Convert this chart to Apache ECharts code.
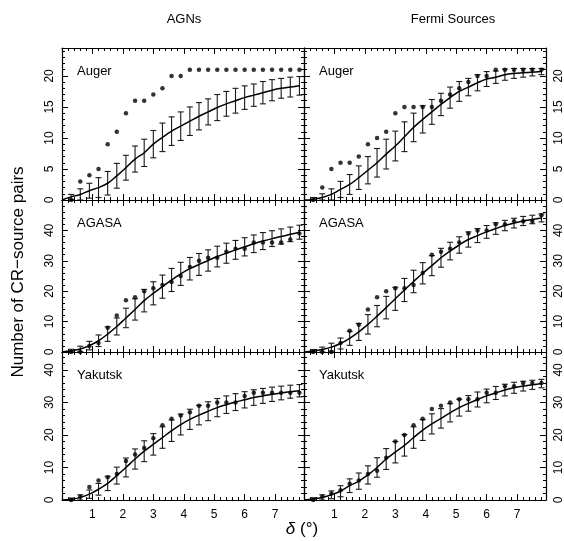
<!DOCTYPE html>
<html>
<head>
<meta charset="utf-8">
<script src="https://cdn.jsdelivr.net/npm/echarts@6/dist/echarts.min.js"></script>
<style>
  html, body { margin: 0; padding: 0; background: #fff; }
  #main { width: 564px; height: 541px; }
</style>
</head>
<body>
<div id="main"></div>
<script>
// angular separation (deg) at which pairs are counted
var delta = [0.3, 0.6, 0.9, 1.2, 1.5, 1.8, 2.1, 2.4, 2.7, 3.0, 3.3, 3.6, 3.9,
             4.2, 4.5, 4.8, 5.1, 5.4, 5.7, 6.0, 6.3, 6.6, 6.9, 7.2, 7.5, 7.8];

// observed pairs
var obsAgnAuger = [0, 3, 4, 5, 9, 11, 14, 16, 16, 17, 18, 20, 20, 21, 21, 21, 21, 21, 21, 21, 21, 21, 21, 21, 21, 21];
var obsFermiAuger = [0, 2, 5, 6, 6, 7, 9, 10, 11, 14, 15, 15, 15, 15, 16, 17, 18, 19, 20, 20, 21, 21, 21, 21, 21, 21];
var obsAgnAgasa = [0, 0, 2, 3, 8, 12, 17, 18, 20, 21, 22, 23, 25, 28, 30, 31, 31, 33, 34, 34, 36, 36, 36, 36, 37, 39];
var obsFermiAgasa = [0, 0, 0, 3, 7, 9, 14, 18, 20, 21, 21, 22, 26, 32, 33, 34, 36, 39, 40, 40, 42, 42, 43, 43, 43, 45];
var obsAgnYakutsk = [0, 1, 4, 6, 7, 8, 12, 14, 16, 19, 23, 25, 26, 27, 29, 29, 30, 30, 30, 32, 33, 33, 33, 33, 33, 33];
var obsFermiYakutsk = [0, 1, 2, 3, 5, 6, 8, 9, 13, 18, 20, 23, 25, 28, 29, 30, 31, 31, 31, 33, 33, 35, 35, 36, 36, 36];

// expected (isotropic) mean
var modelAgnAuger = [0.5, 0.9, 1.5, 2.0, 2.7, 3.9, 5.2, 6.6, 7.6, 9.0, 10.1, 11.1, 11.9, 12.7, 13.5, 14.2, 14.9, 15.5, 16.0, 16.5, 16.9, 17.3, 17.7, 18.0, 18.2, 18.4];
var modelFermiAuger = [0.1, 0.4, 0.9, 1.7, 2.5, 3.6, 4.8, 6.0, 7.4, 8.7, 10.2, 11.7, 13.0, 14.2, 15.4, 16.5, 17.5, 18.2, 18.9, 19.5, 19.8, 20.2, 20.4, 20.5, 20.6, 20.7];
var modelAgnAgasa = [0.4, 1.0, 2.1, 3.7, 5.9, 8.4, 11.2, 14.0, 16.9, 19.3, 21.5, 23.7, 25.7, 27.4, 28.8, 30.1, 31.4, 32.5, 33.6, 34.6, 35.6, 36.5, 37.3, 38.0, 38.7, 39.4];
var modelFermiAgasa = [0.3, 0.8, 1.6, 2.8, 4.5, 6.6, 9.1, 11.8, 14.6, 17.5, 20.4, 23.2, 25.9, 28.4, 31.0, 33.2, 35.2, 37.0, 38.3, 39.5, 40.6, 41.6, 42.4, 43.1, 43.6, 44.1];
var modelAgnYakutsk = [0.2, 0.8, 1.8, 3.3, 5.1, 7.5, 10.0, 12.6, 15.0, 17.1, 19.2, 21.3, 23.2, 24.8, 26.1, 27.3, 28.4, 29.3, 30.1, 30.8, 31.5, 32.0, 32.5, 32.9, 33.3, 33.6];
var modelFermiYakutsk = [0.3, 0.8, 1.6, 2.7, 4.4, 5.8, 7.7, 10.0, 12.6, 14.7, 16.8, 19.2, 21.5, 23.4, 25.1, 26.8, 28.4, 29.7, 30.9, 32.0, 32.9, 33.8, 34.5, 35.0, 35.4, 35.8];

// 1-sigma spread of the expectation
var sigmaAgnAuger = [0.4, 0.9, 1.2, 1.6, 1.9, 2.0, 2.0, 2.1, 2.2, 2.2, 2.3, 2.3, 2.3, 2.3, 2.2, 2.1, 2.1, 2.0, 2.0, 1.9, 1.8, 1.8, 1.7, 1.6, 1.6, 1.5];
var sigmaFermiAuger = [0.3, 0.6, 0.9, 1.3, 1.6, 1.9, 2.2, 2.3, 2.4, 2.4, 2.4, 2.3, 2.2, 2.0, 1.8, 1.7, 1.6, 1.4, 1.3, 1.2, 1.0, 0.9, 0.8, 0.7, 0.6, 0.5];
var sigmaAgnAgasa = [0.5, 0.9, 1.4, 1.9, 2.4, 2.8, 3.2, 3.5, 3.7, 3.8, 3.8, 3.8, 3.8, 3.7, 3.6, 3.5, 3.4, 3.3, 3.1, 3.0, 2.9, 2.8, 2.6, 2.5, 2.4, 2.3];
var sigmaFermiAgasa = [0.5, 0.8, 1.3, 1.8, 2.3, 2.8, 3.2, 3.5, 3.7, 3.8, 3.8, 3.7, 3.5, 3.3, 3.1, 2.9, 2.7, 2.5, 2.3, 2.1, 1.9, 1.7, 1.6, 1.5, 1.4, 1.3];
var sigmaAgnYakutsk = [0.4, 0.8, 1.3, 1.8, 2.2, 2.6, 2.9, 3.1, 3.2, 3.3, 3.3, 3.3, 3.2, 3.1, 3.0, 2.9, 2.8, 2.7, 2.6, 2.5, 2.4, 2.3, 2.2, 2.1, 2.0, 1.9];
var sigmaFermiYakutsk = [0.4, 0.8, 1.2, 1.7, 2.1, 2.5, 2.8, 3.0, 3.2, 3.3, 3.3, 3.3, 3.2, 3.1, 3.0, 2.8, 2.6, 2.4, 2.3, 2.1, 2.0, 1.8, 1.7, 1.5, 1.4, 1.3];

var columnTitles = ['AGNs', 'Fermi Sources'];
var rowNames = ['Auger', 'AGASA', 'Yakutsk'];
var yTickLabels = [[0, 5, 10, 15, 20], [0, 10, 20, 30, 40], [0, 10, 20, 30, 40]];
var xMax = 7.95;
var yMax = [24.5, 50, 45.5];
var yStep = [5, 10, 10];

var panels = [
  [obsAgnAuger, modelAgnAuger, sigmaAgnAuger],
  [obsFermiAuger, modelFermiAuger, sigmaFermiAuger],
  [obsAgnAgasa, modelAgnAgasa, sigmaAgnAgasa],
  [obsFermiAgasa, modelFermiAgasa, sigmaFermiAgasa],
  [obsAgnYakutsk, modelAgnYakutsk, sigmaAgnYakutsk],
  [obsFermiYakutsk, modelFermiYakutsk, sigmaFermiYakutsk]
];

var FONT = 'Liberation Sans, Arial, sans-serif';
var colLeft = [62, 304];
var colWidth = 242;
var rowTop = [48, 200, 352];
var rowHeight = [152, 152, 148];

var chart = echarts.init(document.getElementById('main'), null, { renderer: 'canvas' });

function intLabel(v) {
  return Math.abs(v - Math.round(v)) < 1e-6 ? String(Math.round(v)) : '';
}

function errItem(params, api) {
  var x = api.value(0);
  var lo = api.coord([x, api.value(1)]);
  var hi = api.coord([x, api.value(2)]);
  var w = 3;
  var st = { stroke: '#1a1a1a', lineWidth: 1.1 };
  return {
    type: 'group',
    children: [
      { type: 'line', shape: { x1: lo[0], y1: lo[1], x2: hi[0], y2: hi[1] }, style: st },
      { type: 'line', shape: { x1: lo[0] - w, y1: lo[1], x2: lo[0] + w, y2: lo[1] }, style: st },
      { type: 'line', shape: { x1: hi[0] - w, y1: hi[1], x2: hi[0] + w, y2: hi[1] }, style: st }
    ]
  };
}

// rotated tick labels (read bottom to top), placed through the axis scale
function yLabelItem(params, api) {
  var p = api.coord([api.value(0), api.value(1)]);
  var onLeft = api.value(0) === 0;
  return {
    type: 'text', x: p[0] + (onLeft ? -12 : 13), y: p[1], rotation: Math.PI / 2,
    style: { text: String(api.value(1)), font: '12px ' + FONT, fill: '#000', align: 'center', verticalAlign: 'middle' }
  };
}

var grids = [], xAxes = [], yAxes = [], series = [], graphics = [];

for (var i = 0; i < panels.length; i++) {
  var r = Math.floor(i / 2), c = i % 2;
  grids.push({ left: colLeft[c], top: rowTop[r], width: colWidth, height: rowHeight[r], show: false });

  var tick = { show: true, inside: true, length: 6, lineStyle: { color: '#000', width: 1 } };
  var minor = { show: true, splitNumber: 5, length: 3, lineStyle: { color: '#000', width: 1 } };
  var line = { show: true, onZero: false, lineStyle: { color: '#000', width: 1.2 } };

  ['bottom', 'top'].forEach(function (pos) {
    xAxes.push({
      type: 'value', gridIndex: i, position: pos, min: 0, max: xMax, interval: 1,
      axisLine: line, axisTick: tick, minorTick: minor, splitLine: { show: false },
      axisLabel: {
        show: pos === 'bottom' && r === 2, margin: 9, color: '#000', fontSize: 12,
        fontFamily: FONT, showMinLabel: false, showMaxLabel: false, formatter: intLabel
      }
    });
  });
  ['left', 'right'].forEach(function (pos) {
    yAxes.push({
      type: 'value', gridIndex: i, position: pos, min: 0, max: yMax[r], interval: yStep[r],
      axisLine: line, axisTick: tick, minorTick: minor, splitLine: { show: false },
      axisLabel: { show: false }
    });
  });

  var obs = panels[i][0], model = panels[i][1], sig = panels[i][2];
  var curve = [[0, 0]], bars = [], pts = [];
  for (var k = 0; k < delta.length; k++) {
    curve.push([delta[k], model[k]]);
    bars.push([delta[k], Math.max(0, model[k] - sig[k]), model[k] + sig[k]]);
    pts.push([delta[k], obs[k]]);
  }
  series.push({
    type: 'line', xAxisIndex: 2 * i, yAxisIndex: 2 * i, data: curve, smooth: 0.4,
    showSymbol: false, lineStyle: { color: '#000', width: 1.5 }, silent: true, z: 3
  });
  series.push({
    type: 'custom', xAxisIndex: 2 * i, yAxisIndex: 2 * i, data: bars,
    renderItem: errItem, clip: true, silent: true, z: 2
  });
  series.push({
    type: 'scatter', xAxisIndex: 2 * i, yAxisIndex: 2 * i, data: pts,
    symbol: 'circle', symbolSize: 4.5, itemStyle: { color: '#000' }, silent: true, z: 4
  });
  series.push({
    type: 'custom', xAxisIndex: 2 * i, yAxisIndex: 2 * i, clip: false, silent: true, z: 5,
    data: yTickLabels[r].map(function (v) { return [c === 0 ? 0 : xMax, v]; }),
    renderItem: yLabelItem
  });

  graphics.push({
    type: 'text', left: colLeft[c] + 15, top: rowTop[r] + 17,
    style: { text: rowNames[r], font: '13px ' + FONT, fill: '#000' }
  });
}

graphics.push({
  type: 'text', x: 184, y: 19,
  style: { text: columnTitles[0], font: '13px ' + FONT, fill: '#000', align: 'center', verticalAlign: 'middle' }
});
graphics.push({
  type: 'text', x: 453, y: 19,
  style: { text: columnTitles[1], font: '13px ' + FONT, fill: '#000', align: 'center', verticalAlign: 'middle' }
});
graphics.push({
  type: 'text', x: 18, y: 272, rotation: Math.PI / 2,
  style: { text: 'Number of CR\u2212source pairs', font: '17px ' + FONT, fill: '#000', align: 'center', verticalAlign: 'middle' }
});
graphics.push({
  type: 'text', x: 302, y: 529,
  style: {
    text: '{d|\u03b4} (\u00b0)', align: 'center', verticalAlign: 'middle', font: '17px ' + FONT, fill: '#000',
    rich: { d: { fontStyle: 'italic', fontSize: 17, fontFamily: FONT } }
  }
});

chart.setOption({
  animation: false,
  backgroundColor: '#fff',
  grid: grids,
  xAxis: xAxes,
  yAxis: yAxes,
  series: series,
  graphic: graphics
});

window.addEventListener('resize', chart.resize);
</script>
</body>
</html>
